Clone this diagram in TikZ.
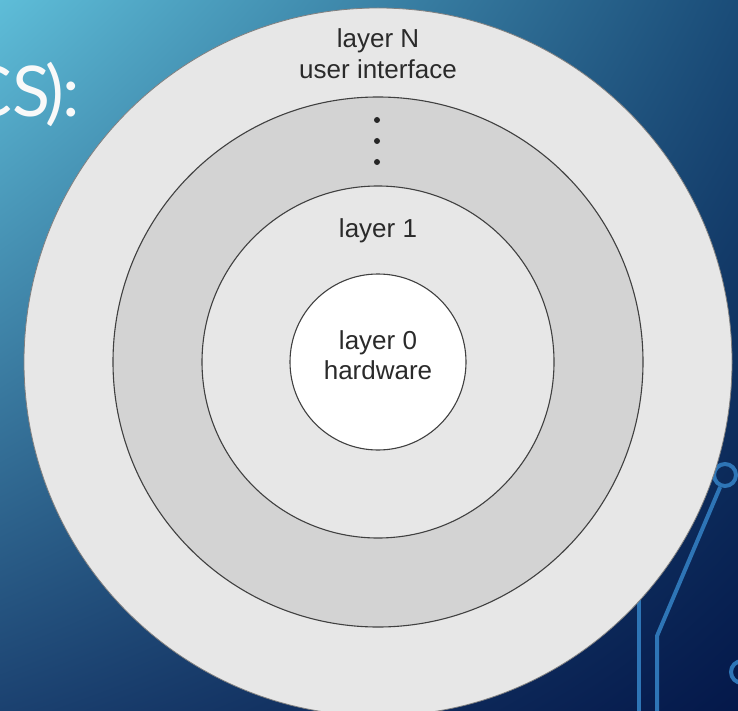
\documentclass[tikz,border=0pt]{standalone}
\usepackage{fontspec}
\setmainfont{Liberation Sans}
\newfontfamily\titlefont{Lato}
\usetikzlibrary{shadings}
\definecolor{bgtl}{HTML}{5EBDD8}
\definecolor{bgtr}{HTML}{1A4C78}
\definecolor{bgbl}{HTML}{1B4170}
\definecolor{bgbr}{HTML}{04184A}
\definecolor{tracecol}{HTML}{2E75B6}
\definecolor{ringlight}{HTML}{E7E7E7}
\definecolor{ringdark}{HTML}{D3D3D3}
\definecolor{labelgray}{HTML}{2A2A2A}
\tikzset{
  layer/.style={circle, draw=black!75, line width=1.1pt, inner sep=0pt},
  lbl/.style={text=labelgray, font=\fontsize{26}{30}\selectfont, inner sep=0pt, anchor=base},
  titletxt/.style={text=white!95!gray, font=\titlefont\fontsize{70}{70}\selectfont, anchor=base east, inner sep=0pt},
  tracewire/.style={draw=tracecol, line width=4pt},
  tracering/.style={circle, draw=tracecol, line width=4pt, minimum size=22pt, inner sep=0pt},
  dot/.style={circle, fill=black!85, inner sep=0pt, minimum size=6pt}
}
\begin{document}
\begin{tikzpicture}[x=1pt,y=-1pt]
            \useasboundingbox (0,0) rectangle (738,711);
            \clip (0,0) rectangle (738,711);
            \shade[upper left=bgtl, upper right=bgtr, lower left=bgbl, lower right=bgbr] (0,0) rectangle (738,711);
            \node[titletxt] (title) at (64,117) {CS\kern-5pt)};
            \node[titletxt] (titlecolon) at (80,117) {:};
            \node[tracering] (ringA) at (725,475) {};
            \node[tracering] (ringB) at (742,672) {};
            \coordinate (bend) at (657,636);
            \coordinate (wireend) at (657,720);
            \coordinate (wiretop) at (639,580);
            \coordinate (wirebot) at (639,720);
            \draw[tracewire] (ringA.-112) -- (bend) -- (wireend);
            \draw[tracewire] (wiretop) -- (wirebot);
            \node[layer, fill=ringlight, draw=black!50, line width=0.8pt, minimum size=708pt] (outer) at (378,362) {};
            \node[layer, fill=ringdark, minimum size=530pt] (middle) at (378,362) {};
            \node[layer, fill=ringlight, minimum size=352pt] (inner) at (378,362) {};
            \node[layer, fill=white, minimum size=176pt] (core) at (378,362) {};
            \node[lbl] (layerN) at (378,48) {layer N};
            \node[lbl] (userif) at ([yshift=-31pt]layerN.base) {user interface};
            \foreach \i/\yy in {1/120,2/141,3/162}
                \node[dot] (dot\i) at (377,\yy) {};
            \node[lbl] (layerone) at (378,237) {layer 1};
            \node[lbl] (layerzero) at (378,349) {layer 0};
            \node[lbl] (hw) at ([yshift=-30.7pt]layerzero.base) {hardware};
        \end{tikzpicture}
\end{document}
